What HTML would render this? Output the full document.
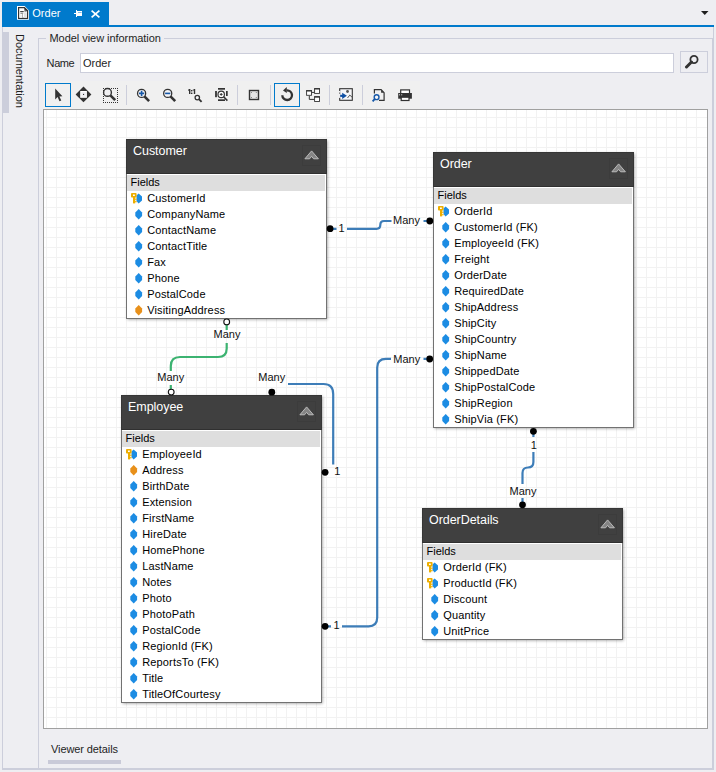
<!DOCTYPE html>
<html><head><meta charset="utf-8"><style>
*{margin:0;padding:0;box-sizing:border-box}
html,body{width:716px;height:772px;overflow:hidden;background:#EEEEF2;font-family:"Liberation Sans", sans-serif}
.a{position:absolute}
.t{position:absolute;white-space:nowrap}
</style></head><body>

<div class="a" style="left:2px;top:2px;width:107px;height:24px;background:#007ACC"></div>
<div class="a" style="left:2px;top:25px;width:712px;height:2px;background:#007ACC"></div>
<svg class="a" style="left:0;top:0" width="40" height="25">
<path d="M17,6 H24.6 L29,10.4 V19.8 H17 Z" fill="#fff"/>
<path d="M18.6,7.6 H24.4 L27.6,10.8 V18.4 H18.6 Z" fill="#fff" stroke="#333" stroke-width="1.2"/>
<path d="M24.4,7.2 L28,10.8 H24.4 Z" fill="#333"/>
<rect x="20.2" y="11" width="3.5" height="1.1" fill="#444"/>
<rect x="20.4" y="12.6" width="2.8" height="1.4" fill="#9a9a9a"/>
<rect x="22" y="14" width="0.9" height="3.9" fill="#aaa"/>
<rect x="24.4" y="11.3" width="2.3" height="0.8" fill="#777"/>
<rect x="24" y="12.7" width="2.7" height="5.1" fill="#e2e2e2"/>
<rect x="19.6" y="14.5" width="2.2" height="3.4" fill="#eee"/>
</svg>
<div class="t" style="left:32.3px;top:7.59px;font-size:11px;line-height:11px;color:#fff;">Order</div>
<svg class="a" style="left:0;top:0" width="110" height="25">
<rect x="74" y="13" width="2" height="1" fill="#fff"/>
<rect x="76" y="10" width="1" height="7" fill="#fff"/>
<rect x="77" y="11" width="5" height="5" fill="#fff"/>
<rect x="78" y="12" width="3.6" height="1" fill="#7fbbe6"/>
</svg>
<svg class="a" style="left:90px;top:9px" width="11" height="10" viewBox="0 0 11 10">
<path d="M1.6 1.6 L9.4 8.4 M9.4 1.6 L1.6 8.4" stroke="#fff" stroke-width="1.7"/>
</svg>
<svg class="a" style="left:700px;top:10px" width="10" height="6"><path d="M1 1 H8.5 L4.75 5 Z" fill="#1e1e1e"/></svg>
<div class="a" style="left:2px;top:27px;width:712px;height:743px;border:1px solid #CCCEDB;border-top:none;border-bottom-width:2px"></div>
<div class="a" style="left:3px;top:32px;width:6px;height:81px;background:#CCCEDB"></div>
<div class="t" style="left:25.4px;top:34px;font-size:11px;line-height:11px;color:#1e1e1e;transform-origin:0 0;transform:rotate(90deg)">Documentation</div>
<div class="a" style="left:38px;top:38px;width:675px;height:731px;border:1px solid #CCCEDB;border-bottom:none"></div>
<div class="a" style="left:46px;top:30px;width:118px;height:14px;background:#EEEEF2"></div>
<div class="t" style="left:49.5px;top:33.29px;font-size:11px;line-height:11px;color:#1e1e1e;letter-spacing:-0.05px">Model view information</div>
<div class="t" style="left:46.6px;top:57.59px;font-size:11px;line-height:11px;color:#1e1e1e;letter-spacing:-0.4px">Name</div>
<div class="a" style="left:80px;top:53px;width:594px;height:20px;background:#fff;border:1px solid #CCCEDB"></div>
<div class="t" style="left:83px;top:57.59px;font-size:11px;line-height:11px;color:#1e1e1e;">Order</div>
<div class="a" style="left:680px;top:51px;width:28px;height:22px;border:1px solid #CCCEDB"></div>
<svg class="a" style="left:684px;top:54px" width="16" height="15" viewBox="0 0 16 15">
<circle cx="10" cy="5.5" r="3.6" fill="none" stroke="#333" stroke-width="1.8"/>
<path d="M7.5 8 L2.5 13" stroke="#333" stroke-width="3" stroke-linecap="round"/>
</svg>
<div class="a" style="left:43px;top:81px;width:377px;height:28px;background:#F0F0F0"></div>
<div class="a" style="left:45px;top:83px;width:26px;height:24px;border:1px solid #007ACC"></div>
<div class="a" style="left:274px;top:83px;width:26px;height:24px;border:1px solid #007ACC"></div>
<div class="a" style="left:126px;top:85px;width:1px;height:20px;background:#CCCEDB"></div>
<div class="a" style="left:237px;top:85px;width:1px;height:20px;background:#CCCEDB"></div>
<div class="a" style="left:270px;top:85px;width:1px;height:20px;background:#CCCEDB"></div>
<div class="a" style="left:329px;top:85px;width:1px;height:20px;background:#CCCEDB"></div>
<div class="a" style="left:362px;top:85px;width:1px;height:20px;background:#CCCEDB"></div>
<svg class="a" style="left:0;top:0" width="716" height="110" viewBox="0 0 716 110">
<path d="M55.2,88.6 V99.4 L57.6,97.1 L59.5,101.2 L61.3,100.4 L59.4,96.4 L62.4,96.2 Z" fill="#333"/>
<path d="M83.5,86.6 L91.4,94.4 L83.5,102.2 L75.6,94.4 Z" fill="#333"/>
<rect x="80.2" y="91" width="6.7" height="6.8" fill="#fff"/>
<rect x="81.2" y="92" width="4.7" height="4.8" fill="#EEEEF2"/>
<rect x="83" y="93.9" width="1.1" height="1.1" fill="#333"/>
<rect x="105" y="88" width="1" height="1" fill="#333"/><rect x="105" y="102" width="1" height="1" fill="#333"/><rect x="107" y="88" width="1" height="1" fill="#333"/><rect x="107" y="102" width="1" height="1" fill="#333"/><rect x="109" y="88" width="1" height="1" fill="#333"/><rect x="109" y="102" width="1" height="1" fill="#333"/><rect x="111" y="88" width="1" height="1" fill="#333"/><rect x="111" y="102" width="1" height="1" fill="#333"/><rect x="113" y="88" width="1" height="1" fill="#333"/><rect x="113" y="102" width="1" height="1" fill="#333"/><rect x="115" y="88" width="1" height="1" fill="#333"/><rect x="115" y="102" width="1" height="1" fill="#333"/><rect x="117" y="88" width="1" height="1" fill="#333"/><rect x="117" y="102" width="1" height="1" fill="#333"/><rect x="117" y="88" width="1" height="1" fill="#333"/><rect x="103" y="88" width="1" height="1" fill="#333"/><rect x="117" y="90" width="1" height="1" fill="#333"/><rect x="103" y="90" width="1" height="1" fill="#333"/><rect x="117" y="92" width="1" height="1" fill="#333"/><rect x="103" y="92" width="1" height="1" fill="#333"/><rect x="117" y="94" width="1" height="1" fill="#333"/><rect x="103" y="94" width="1" height="1" fill="#333"/><rect x="117" y="96" width="1" height="1" fill="#333"/><rect x="103" y="96" width="1" height="1" fill="#333"/><rect x="117" y="98" width="1" height="1" fill="#333"/><rect x="103" y="98" width="1" height="1" fill="#333"/><rect x="117" y="100" width="1" height="1" fill="#333"/><rect x="103" y="100" width="1" height="1" fill="#333"/><rect x="117" y="102" width="1" height="1" fill="#333"/><rect x="103" y="102" width="1" height="1" fill="#333"/>
<circle cx="107.5" cy="92.4" r="3.9" fill="#F0F0F2" stroke="#333" stroke-width="1.4"/>
<path d="M110.4,95.3 L115.2,100.1" stroke="#333" stroke-width="2.6"/>
<circle cx="141.6" cy="93.4" r="4.05" fill="#F4F4F6" stroke="#333" stroke-width="1.3"/>
<path d="M139,93.4 H144.2 M141.6,90.8 V96" stroke="#1658A8" stroke-width="1.6"/>
<path d="M144.4,96.4 L149.1,101.1" stroke="#333" stroke-width="2.6"/>
<circle cx="167.7" cy="93.4" r="4.05" fill="#F4F4F6" stroke="#333" stroke-width="1.3"/>
<path d="M165.1,93.4 H170.3" stroke="#1658A8" stroke-width="1.6"/>
<path d="M170.5,96.4 L175.2,101.1" stroke="#333" stroke-width="2.6"/>
<rect x="189" y="89" width="1.4" height="5" fill="#333"/><rect x="188" y="89.5" width="1" height="1.1" fill="#333"/>
<rect x="191" y="90" width="1.4" height="1.4" fill="#333"/><rect x="191" y="92.6" width="1.4" height="1.4" fill="#333"/>
<rect x="193.8" y="89" width="1.4" height="5" fill="#333"/><rect x="192.8" y="89.5" width="1" height="1.1" fill="#333"/>
<circle cx="197.3" cy="97.6" r="2.2" fill="#F4F4F6" stroke="#333" stroke-width="1.3"/>
<path d="M198.9,99.2 L201.6,101.9" stroke="#333" stroke-width="1.9"/>
<rect x="218" y="88" width="7" height="1.7" fill="#333"/><rect x="218" y="99.3" width="7" height="1.7" fill="#333"/><rect x="215.1" y="91" width="1.8" height="6.2" fill="#333"/><rect x="226" y="91" width="1.7" height="5" fill="#333"/>
<circle cx="221.2" cy="94.4" r="3.2" fill="#fff" stroke="#333" stroke-width="1.2"/>
<path d="M219.8,94.4 H222.6 M221.2,93 V95.8" stroke="#333" stroke-width="1"/>
<path d="M223.6,96.8 L227.4,100.6" stroke="#333" stroke-width="1.6"/>
<rect x="249.5" y="90.5" width="9" height="9" fill="#E4E4E4" stroke="#333" stroke-width="1.4"/>
<rect x="251" y="92" width="1" height="1" fill="#888"/><rect x="255.8" y="92" width="1" height="1" fill="#888"/>
<rect x="251" y="97" width="1" height="1" fill="#888"/><rect x="255.8" y="97" width="1" height="1" fill="#888"/>
<path d="M282.3,95.2 A4.85,4.85 0 1 0 286.8,90.3" fill="none" stroke="#333" stroke-width="2.3"/>
<path d="M286.8,86.9 L283,90.5 L286.8,93.1 Z" fill="#333"/>
<path d="M311.8,92.4 H314.5 M309.3,95.7 V99.4 H314.5" fill="none" stroke="#333" stroke-width="1"/>
<rect x="306.6" y="90.6" width="4.9" height="4.7" fill="#fff" stroke="#333" stroke-width="0.9"/><rect x="306.2" y="90.2" width="5.7" height="1.3" fill="#333"/>
<rect x="314.6" y="88.6" width="4.9" height="4.8" fill="#fff" stroke="#333" stroke-width="0.9"/><rect x="314.2" y="88.2" width="5.7" height="1.3" fill="#333"/>
<rect x="314.6" y="96.7" width="4.9" height="4.8" fill="#fff" stroke="#333" stroke-width="0.9"/><rect x="314.2" y="96.3" width="5.7" height="1.3" fill="#333"/>
<rect x="339.7" y="88.7" width="12.6" height="11.6" fill="#F6F6F8" stroke="#333" stroke-width="1.1"/>
<rect x="339" y="91" width="1.5" height="1.6" fill="#F0F0F2"/><rect x="339" y="93.6" width="1.5" height="4.3" fill="#F0F0F2"/>
<circle cx="347.5" cy="91.5" r="1.4" fill="#555"/>
<path d="M347.5,98 L349.8,95.1 L352.3,97.4" fill="none" stroke="#444" stroke-width="0.9"/>
<path d="M340.2,95.85 H344" stroke="#0E4FA3" stroke-width="2.1"/>
<path d="M342.2,92.8 L346.9,95.85 L342.2,99.1 Z" fill="#0E4FA3"/>
<path d="M374.4,93.5 V89.7 H381.1 L384.1,92.7 V100.4 H379" fill="none" stroke="#333" stroke-width="1.2"/>
<path d="M381.1,89.7 V92.7 H384.1 Z" fill="#333"/>
<circle cx="376.6" cy="97.2" r="2.4" fill="#F4F4F6" stroke="#1658A8" stroke-width="1.4"/>
<path d="M374.9,98.9 L372.6,101.3" stroke="#1658A8" stroke-width="1.9"/>
<rect x="400.7" y="89.9" width="8.8" height="4" fill="#fff" stroke="#333" stroke-width="1.2"/>
<rect x="398.2" y="93" width="13.7" height="5.7" fill="#333"/>
<rect x="399" y="94.3" width="1" height="1" fill="#ddd"/><rect x="401.2" y="94.3" width="1" height="1" fill="#ddd"/>
<rect x="401.2" y="97.2" width="7.8" height="3.3" fill="#fff" stroke="#333" stroke-width="1.2"/>
</svg>
<div class="a" style="left:43px;top:109px;width:665px;height:620px;background:#fff;border:1px solid #A0A0A0"></div>
<svg class="a" style="left:0;top:0" width="716" height="772"><rect x="46" y="110" width="1" height="618" fill="#F2F2F2"/><rect x="56" y="110" width="1" height="618" fill="#F2F2F2"/><rect x="66" y="110" width="1" height="618" fill="#F2F2F2"/><rect x="76" y="110" width="1" height="618" fill="#F2F2F2"/><rect x="86" y="110" width="1" height="618" fill="#F2F2F2"/><rect x="96" y="110" width="1" height="618" fill="#F2F2F2"/><rect x="106" y="110" width="1" height="618" fill="#F2F2F2"/><rect x="116" y="110" width="1" height="618" fill="#F2F2F2"/><rect x="126" y="110" width="1" height="618" fill="#F2F2F2"/><rect x="136" y="110" width="1" height="618" fill="#F2F2F2"/><rect x="146" y="110" width="1" height="618" fill="#F2F2F2"/><rect x="156" y="110" width="1" height="618" fill="#F2F2F2"/><rect x="166" y="110" width="1" height="618" fill="#F2F2F2"/><rect x="176" y="110" width="1" height="618" fill="#F2F2F2"/><rect x="186" y="110" width="1" height="618" fill="#F2F2F2"/><rect x="196" y="110" width="1" height="618" fill="#F2F2F2"/><rect x="206" y="110" width="1" height="618" fill="#F2F2F2"/><rect x="216" y="110" width="1" height="618" fill="#F2F2F2"/><rect x="226" y="110" width="1" height="618" fill="#F2F2F2"/><rect x="236" y="110" width="1" height="618" fill="#F2F2F2"/><rect x="246" y="110" width="1" height="618" fill="#F2F2F2"/><rect x="256" y="110" width="1" height="618" fill="#F2F2F2"/><rect x="266" y="110" width="1" height="618" fill="#F2F2F2"/><rect x="276" y="110" width="1" height="618" fill="#F2F2F2"/><rect x="286" y="110" width="1" height="618" fill="#F2F2F2"/><rect x="296" y="110" width="1" height="618" fill="#F2F2F2"/><rect x="306" y="110" width="1" height="618" fill="#F2F2F2"/><rect x="316" y="110" width="1" height="618" fill="#F2F2F2"/><rect x="326" y="110" width="1" height="618" fill="#F2F2F2"/><rect x="336" y="110" width="1" height="618" fill="#F2F2F2"/><rect x="346" y="110" width="1" height="618" fill="#F2F2F2"/><rect x="356" y="110" width="1" height="618" fill="#F2F2F2"/><rect x="366" y="110" width="1" height="618" fill="#F2F2F2"/><rect x="376" y="110" width="1" height="618" fill="#F2F2F2"/><rect x="386" y="110" width="1" height="618" fill="#F2F2F2"/><rect x="396" y="110" width="1" height="618" fill="#F2F2F2"/><rect x="406" y="110" width="1" height="618" fill="#F2F2F2"/><rect x="416" y="110" width="1" height="618" fill="#F2F2F2"/><rect x="426" y="110" width="1" height="618" fill="#F2F2F2"/><rect x="436" y="110" width="1" height="618" fill="#F2F2F2"/><rect x="446" y="110" width="1" height="618" fill="#F2F2F2"/><rect x="456" y="110" width="1" height="618" fill="#F2F2F2"/><rect x="466" y="110" width="1" height="618" fill="#F2F2F2"/><rect x="476" y="110" width="1" height="618" fill="#F2F2F2"/><rect x="486" y="110" width="1" height="618" fill="#F2F2F2"/><rect x="496" y="110" width="1" height="618" fill="#F2F2F2"/><rect x="506" y="110" width="1" height="618" fill="#F2F2F2"/><rect x="516" y="110" width="1" height="618" fill="#F2F2F2"/><rect x="526" y="110" width="1" height="618" fill="#F2F2F2"/><rect x="536" y="110" width="1" height="618" fill="#F2F2F2"/><rect x="546" y="110" width="1" height="618" fill="#F2F2F2"/><rect x="556" y="110" width="1" height="618" fill="#F2F2F2"/><rect x="566" y="110" width="1" height="618" fill="#F2F2F2"/><rect x="576" y="110" width="1" height="618" fill="#F2F2F2"/><rect x="586" y="110" width="1" height="618" fill="#F2F2F2"/><rect x="596" y="110" width="1" height="618" fill="#F2F2F2"/><rect x="606" y="110" width="1" height="618" fill="#F2F2F2"/><rect x="616" y="110" width="1" height="618" fill="#F2F2F2"/><rect x="626" y="110" width="1" height="618" fill="#F2F2F2"/><rect x="636" y="110" width="1" height="618" fill="#F2F2F2"/><rect x="646" y="110" width="1" height="618" fill="#F2F2F2"/><rect x="656" y="110" width="1" height="618" fill="#F2F2F2"/><rect x="666" y="110" width="1" height="618" fill="#F2F2F2"/><rect x="676" y="110" width="1" height="618" fill="#F2F2F2"/><rect x="686" y="110" width="1" height="618" fill="#F2F2F2"/><rect x="696" y="110" width="1" height="618" fill="#F2F2F2"/><rect x="44" y="117" width="663" height="1" fill="#F2F2F2"/><rect x="44" y="127" width="663" height="1" fill="#F2F2F2"/><rect x="44" y="137" width="663" height="1" fill="#F2F2F2"/><rect x="44" y="147" width="663" height="1" fill="#F2F2F2"/><rect x="44" y="157" width="663" height="1" fill="#F2F2F2"/><rect x="44" y="167" width="663" height="1" fill="#F2F2F2"/><rect x="44" y="177" width="663" height="1" fill="#F2F2F2"/><rect x="44" y="187" width="663" height="1" fill="#F2F2F2"/><rect x="44" y="197" width="663" height="1" fill="#F2F2F2"/><rect x="44" y="207" width="663" height="1" fill="#F2F2F2"/><rect x="44" y="217" width="663" height="1" fill="#F2F2F2"/><rect x="44" y="227" width="663" height="1" fill="#F2F2F2"/><rect x="44" y="237" width="663" height="1" fill="#F2F2F2"/><rect x="44" y="247" width="663" height="1" fill="#F2F2F2"/><rect x="44" y="257" width="663" height="1" fill="#F2F2F2"/><rect x="44" y="267" width="663" height="1" fill="#F2F2F2"/><rect x="44" y="277" width="663" height="1" fill="#F2F2F2"/><rect x="44" y="287" width="663" height="1" fill="#F2F2F2"/><rect x="44" y="297" width="663" height="1" fill="#F2F2F2"/><rect x="44" y="307" width="663" height="1" fill="#F2F2F2"/><rect x="44" y="317" width="663" height="1" fill="#F2F2F2"/><rect x="44" y="327" width="663" height="1" fill="#F2F2F2"/><rect x="44" y="337" width="663" height="1" fill="#F2F2F2"/><rect x="44" y="347" width="663" height="1" fill="#F2F2F2"/><rect x="44" y="357" width="663" height="1" fill="#F2F2F2"/><rect x="44" y="367" width="663" height="1" fill="#F2F2F2"/><rect x="44" y="377" width="663" height="1" fill="#F2F2F2"/><rect x="44" y="387" width="663" height="1" fill="#F2F2F2"/><rect x="44" y="397" width="663" height="1" fill="#F2F2F2"/><rect x="44" y="407" width="663" height="1" fill="#F2F2F2"/><rect x="44" y="417" width="663" height="1" fill="#F2F2F2"/><rect x="44" y="427" width="663" height="1" fill="#F2F2F2"/><rect x="44" y="437" width="663" height="1" fill="#F2F2F2"/><rect x="44" y="447" width="663" height="1" fill="#F2F2F2"/><rect x="44" y="457" width="663" height="1" fill="#F2F2F2"/><rect x="44" y="467" width="663" height="1" fill="#F2F2F2"/><rect x="44" y="477" width="663" height="1" fill="#F2F2F2"/><rect x="44" y="487" width="663" height="1" fill="#F2F2F2"/><rect x="44" y="497" width="663" height="1" fill="#F2F2F2"/><rect x="44" y="507" width="663" height="1" fill="#F2F2F2"/><rect x="44" y="517" width="663" height="1" fill="#F2F2F2"/><rect x="44" y="527" width="663" height="1" fill="#F2F2F2"/><rect x="44" y="537" width="663" height="1" fill="#F2F2F2"/><rect x="44" y="547" width="663" height="1" fill="#F2F2F2"/><rect x="44" y="557" width="663" height="1" fill="#F2F2F2"/><rect x="44" y="567" width="663" height="1" fill="#F2F2F2"/><rect x="44" y="577" width="663" height="1" fill="#F2F2F2"/><rect x="44" y="587" width="663" height="1" fill="#F2F2F2"/><rect x="44" y="597" width="663" height="1" fill="#F2F2F2"/><rect x="44" y="607" width="663" height="1" fill="#F2F2F2"/><rect x="44" y="617" width="663" height="1" fill="#F2F2F2"/><rect x="44" y="627" width="663" height="1" fill="#F2F2F2"/><rect x="44" y="637" width="663" height="1" fill="#F2F2F2"/><rect x="44" y="647" width="663" height="1" fill="#F2F2F2"/><rect x="44" y="657" width="663" height="1" fill="#F2F2F2"/><rect x="44" y="667" width="663" height="1" fill="#F2F2F2"/><rect x="44" y="677" width="663" height="1" fill="#F2F2F2"/><rect x="44" y="687" width="663" height="1" fill="#F2F2F2"/><rect x="44" y="697" width="663" height="1" fill="#F2F2F2"/><rect x="44" y="707" width="663" height="1" fill="#F2F2F2"/><rect x="44" y="717" width="663" height="1" fill="#F2F2F2"/></svg>
<div class="a" style="left:126px;top:139px;width:201px;height:180px;background:#fff;border:1px solid #727272;box-shadow:0.5px 0.5px 3px rgba(0,0,0,0.4)"></div>
<div class="a" style="left:126px;top:139px;width:201px;height:35px;background:#404040;border:1px solid #363636;border-bottom-color:#303030"></div>
<div class="a" style="left:127px;top:175px;width:198px;height:16px;background:#DEDEDE"></div>
<div class="t" style="left:133px;top:145.42px;font-size:12.5px;line-height:12.5px;color:#fff;letter-spacing:-0.05px">Customer</div>
<div class="a" style="left:302px;top:145px;width:19px;height:21px;border:1px solid #3C3C3C"></div>
<svg class="a" style="left:302px;top:149px" width="19" height="12" viewBox="0 0 19 12"><path d="M2.9 9.8 L9.6 1.9 L16.4 9.8 L11.6 9.8 L9.6 7.4 L7.6 9.8 Z" fill="#858585" stroke="#C4C4C4" stroke-width="0.9" stroke-linejoin="round"/></svg>
<div class="t" style="left:130.5px;top:176.69px;font-size:11px;line-height:11px;color:#000;">Fields</div>
<svg class="a" style="left:131px;top:192.6px" width="12" height="11" viewBox="0 0 12 11"><path d="M7.6 0.4 L11 3.6 V7.4 L7.6 10.6 L5.5 8 V2.5 Z" fill="#1C8CE3"/><path d="M0.9 0 H4.7 Q5.6 0 5.6 0.9 V3.5 Q5.6 4.4 4.7 4.4 H0.9 Q0 4.4 0 3.5 V0.9 Q0 0 0.9 0 Z M2 1.4 V3 H3.8 V1.4 Z" fill="#EDAE00" fill-rule="evenodd"/><rect x="2" y="4" width="2.2" height="6.4" fill="#EDAE00"/><rect x="4.2" y="5.6" width="1.4" height="1.3" fill="#EDAE00"/><rect x="4.2" y="8" width="1.4" height="1.3" fill="#EDAE00"/></svg>
<div class="t" style="left:147.2px;top:192.69px;font-size:11px;line-height:11px;color:#000;letter-spacing:0.16px">CustomerId</div>
<svg class="a" style="left:134.8px;top:208.6px" width="8" height="11" viewBox="0 0 8 11"><path d="M3.7 0 L7.1 3.4 V7.1 L3.7 10.5 L0.3 7.1 V3.4 Z" fill="#1C8CE3"/></svg>
<div class="t" style="left:147.2px;top:208.69px;font-size:11px;line-height:11px;color:#000;letter-spacing:0.16px">CompanyName</div>
<svg class="a" style="left:134.8px;top:224.6px" width="8" height="11" viewBox="0 0 8 11"><path d="M3.7 0 L7.1 3.4 V7.1 L3.7 10.5 L0.3 7.1 V3.4 Z" fill="#1C8CE3"/></svg>
<div class="t" style="left:147.2px;top:224.69px;font-size:11px;line-height:11px;color:#000;letter-spacing:0.16px">ContactName</div>
<svg class="a" style="left:134.8px;top:240.6px" width="8" height="11" viewBox="0 0 8 11"><path d="M3.7 0 L7.1 3.4 V7.1 L3.7 10.5 L0.3 7.1 V3.4 Z" fill="#1C8CE3"/></svg>
<div class="t" style="left:147.2px;top:240.69px;font-size:11px;line-height:11px;color:#000;letter-spacing:0.16px">ContactTitle</div>
<svg class="a" style="left:134.8px;top:256.6px" width="8" height="11" viewBox="0 0 8 11"><path d="M3.7 0 L7.1 3.4 V7.1 L3.7 10.5 L0.3 7.1 V3.4 Z" fill="#1C8CE3"/></svg>
<div class="t" style="left:147.2px;top:256.69px;font-size:11px;line-height:11px;color:#000;letter-spacing:0.16px">Fax</div>
<svg class="a" style="left:134.8px;top:272.6px" width="8" height="11" viewBox="0 0 8 11"><path d="M3.7 0 L7.1 3.4 V7.1 L3.7 10.5 L0.3 7.1 V3.4 Z" fill="#1C8CE3"/></svg>
<div class="t" style="left:147.2px;top:272.69px;font-size:11px;line-height:11px;color:#000;letter-spacing:0.16px">Phone</div>
<svg class="a" style="left:134.8px;top:288.6px" width="8" height="11" viewBox="0 0 8 11"><path d="M3.7 0 L7.1 3.4 V7.1 L3.7 10.5 L0.3 7.1 V3.4 Z" fill="#1C8CE3"/></svg>
<div class="t" style="left:147.2px;top:288.69px;font-size:11px;line-height:11px;color:#000;letter-spacing:0.16px">PostalCode</div>
<svg class="a" style="left:134.8px;top:304.6px" width="8" height="11" viewBox="0 0 8 11"><path d="M3.7 0 L7.1 3.4 V7.1 L3.7 10.5 L0.3 7.1 V3.4 Z" fill="#E8901A"/></svg>
<div class="t" style="left:147.2px;top:304.69px;font-size:11px;line-height:11px;color:#000;letter-spacing:0.16px">VisitingAddress</div>
<div class="a" style="left:433px;top:152px;width:201px;height:276px;background:#fff;border:1px solid #727272;box-shadow:0.5px 0.5px 3px rgba(0,0,0,0.4)"></div>
<div class="a" style="left:433px;top:152px;width:201px;height:35px;background:#404040;border:1px solid #363636;border-bottom-color:#303030"></div>
<div class="a" style="left:434px;top:188px;width:198px;height:16px;background:#DEDEDE"></div>
<div class="t" style="left:440px;top:158.42px;font-size:12.5px;line-height:12.5px;color:#fff;letter-spacing:-0.05px">Order</div>
<div class="a" style="left:609px;top:158px;width:19px;height:21px;border:1px solid #3C3C3C"></div>
<svg class="a" style="left:609px;top:162px" width="19" height="12" viewBox="0 0 19 12"><path d="M2.9 9.8 L9.6 1.9 L16.4 9.8 L11.6 9.8 L9.6 7.4 L7.6 9.8 Z" fill="#858585" stroke="#C4C4C4" stroke-width="0.9" stroke-linejoin="round"/></svg>
<div class="t" style="left:437.5px;top:189.69px;font-size:11px;line-height:11px;color:#000;">Fields</div>
<svg class="a" style="left:438px;top:205.6px" width="12" height="11" viewBox="0 0 12 11"><path d="M7.6 0.4 L11 3.6 V7.4 L7.6 10.6 L5.5 8 V2.5 Z" fill="#1C8CE3"/><path d="M0.9 0 H4.7 Q5.6 0 5.6 0.9 V3.5 Q5.6 4.4 4.7 4.4 H0.9 Q0 4.4 0 3.5 V0.9 Q0 0 0.9 0 Z M2 1.4 V3 H3.8 V1.4 Z" fill="#EDAE00" fill-rule="evenodd"/><rect x="2" y="4" width="2.2" height="6.4" fill="#EDAE00"/><rect x="4.2" y="5.6" width="1.4" height="1.3" fill="#EDAE00"/><rect x="4.2" y="8" width="1.4" height="1.3" fill="#EDAE00"/></svg>
<div class="t" style="left:454.2px;top:205.69px;font-size:11px;line-height:11px;color:#000;letter-spacing:0.16px">OrderId</div>
<svg class="a" style="left:441.8px;top:221.6px" width="8" height="11" viewBox="0 0 8 11"><path d="M3.7 0 L7.1 3.4 V7.1 L3.7 10.5 L0.3 7.1 V3.4 Z" fill="#1C8CE3"/></svg>
<div class="t" style="left:454.2px;top:221.69px;font-size:11px;line-height:11px;color:#000;letter-spacing:0.16px">CustomerId (FK)</div>
<svg class="a" style="left:441.8px;top:237.6px" width="8" height="11" viewBox="0 0 8 11"><path d="M3.7 0 L7.1 3.4 V7.1 L3.7 10.5 L0.3 7.1 V3.4 Z" fill="#1C8CE3"/></svg>
<div class="t" style="left:454.2px;top:237.69px;font-size:11px;line-height:11px;color:#000;letter-spacing:0.16px">EmployeeId (FK)</div>
<svg class="a" style="left:441.8px;top:253.6px" width="8" height="11" viewBox="0 0 8 11"><path d="M3.7 0 L7.1 3.4 V7.1 L3.7 10.5 L0.3 7.1 V3.4 Z" fill="#1C8CE3"/></svg>
<div class="t" style="left:454.2px;top:253.69px;font-size:11px;line-height:11px;color:#000;letter-spacing:0.16px">Freight</div>
<svg class="a" style="left:441.8px;top:269.6px" width="8" height="11" viewBox="0 0 8 11"><path d="M3.7 0 L7.1 3.4 V7.1 L3.7 10.5 L0.3 7.1 V3.4 Z" fill="#1C8CE3"/></svg>
<div class="t" style="left:454.2px;top:269.69px;font-size:11px;line-height:11px;color:#000;letter-spacing:0.16px">OrderDate</div>
<svg class="a" style="left:441.8px;top:285.6px" width="8" height="11" viewBox="0 0 8 11"><path d="M3.7 0 L7.1 3.4 V7.1 L3.7 10.5 L0.3 7.1 V3.4 Z" fill="#1C8CE3"/></svg>
<div class="t" style="left:454.2px;top:285.69px;font-size:11px;line-height:11px;color:#000;letter-spacing:0.16px">RequiredDate</div>
<svg class="a" style="left:441.8px;top:301.6px" width="8" height="11" viewBox="0 0 8 11"><path d="M3.7 0 L7.1 3.4 V7.1 L3.7 10.5 L0.3 7.1 V3.4 Z" fill="#1C8CE3"/></svg>
<div class="t" style="left:454.2px;top:301.69px;font-size:11px;line-height:11px;color:#000;letter-spacing:0.16px">ShipAddress</div>
<svg class="a" style="left:441.8px;top:317.6px" width="8" height="11" viewBox="0 0 8 11"><path d="M3.7 0 L7.1 3.4 V7.1 L3.7 10.5 L0.3 7.1 V3.4 Z" fill="#1C8CE3"/></svg>
<div class="t" style="left:454.2px;top:317.69px;font-size:11px;line-height:11px;color:#000;letter-spacing:0.16px">ShipCity</div>
<svg class="a" style="left:441.8px;top:333.6px" width="8" height="11" viewBox="0 0 8 11"><path d="M3.7 0 L7.1 3.4 V7.1 L3.7 10.5 L0.3 7.1 V3.4 Z" fill="#1C8CE3"/></svg>
<div class="t" style="left:454.2px;top:333.69px;font-size:11px;line-height:11px;color:#000;letter-spacing:0.16px">ShipCountry</div>
<svg class="a" style="left:441.8px;top:349.6px" width="8" height="11" viewBox="0 0 8 11"><path d="M3.7 0 L7.1 3.4 V7.1 L3.7 10.5 L0.3 7.1 V3.4 Z" fill="#1C8CE3"/></svg>
<div class="t" style="left:454.2px;top:349.69px;font-size:11px;line-height:11px;color:#000;letter-spacing:0.16px">ShipName</div>
<svg class="a" style="left:441.8px;top:365.6px" width="8" height="11" viewBox="0 0 8 11"><path d="M3.7 0 L7.1 3.4 V7.1 L3.7 10.5 L0.3 7.1 V3.4 Z" fill="#1C8CE3"/></svg>
<div class="t" style="left:454.2px;top:365.69px;font-size:11px;line-height:11px;color:#000;letter-spacing:0.16px">ShippedDate</div>
<svg class="a" style="left:441.8px;top:381.6px" width="8" height="11" viewBox="0 0 8 11"><path d="M3.7 0 L7.1 3.4 V7.1 L3.7 10.5 L0.3 7.1 V3.4 Z" fill="#1C8CE3"/></svg>
<div class="t" style="left:454.2px;top:381.69px;font-size:11px;line-height:11px;color:#000;letter-spacing:0.16px">ShipPostalCode</div>
<svg class="a" style="left:441.8px;top:397.6px" width="8" height="11" viewBox="0 0 8 11"><path d="M3.7 0 L7.1 3.4 V7.1 L3.7 10.5 L0.3 7.1 V3.4 Z" fill="#1C8CE3"/></svg>
<div class="t" style="left:454.2px;top:397.69px;font-size:11px;line-height:11px;color:#000;letter-spacing:0.16px">ShipRegion</div>
<svg class="a" style="left:441.8px;top:413.6px" width="8" height="11" viewBox="0 0 8 11"><path d="M3.7 0 L7.1 3.4 V7.1 L3.7 10.5 L0.3 7.1 V3.4 Z" fill="#1C8CE3"/></svg>
<div class="t" style="left:454.2px;top:413.69px;font-size:11px;line-height:11px;color:#000;letter-spacing:0.16px">ShipVia (FK)</div>
<div class="a" style="left:121px;top:395px;width:201px;height:308px;background:#fff;border:1px solid #727272;box-shadow:0.5px 0.5px 3px rgba(0,0,0,0.4)"></div>
<div class="a" style="left:121px;top:395px;width:201px;height:35px;background:#404040;border:1px solid #363636;border-bottom-color:#303030"></div>
<div class="a" style="left:122px;top:431px;width:198px;height:16px;background:#DEDEDE"></div>
<div class="t" style="left:128px;top:401.42px;font-size:12.5px;line-height:12.5px;color:#fff;letter-spacing:-0.05px">Employee</div>
<div class="a" style="left:297px;top:401px;width:19px;height:21px;border:1px solid #3C3C3C"></div>
<svg class="a" style="left:297px;top:405px" width="19" height="12" viewBox="0 0 19 12"><path d="M2.9 9.8 L9.6 1.9 L16.4 9.8 L11.6 9.8 L9.6 7.4 L7.6 9.8 Z" fill="#858585" stroke="#C4C4C4" stroke-width="0.9" stroke-linejoin="round"/></svg>
<div class="t" style="left:125.5px;top:432.69px;font-size:11px;line-height:11px;color:#000;">Fields</div>
<svg class="a" style="left:126px;top:448.6px" width="12" height="11" viewBox="0 0 12 11"><path d="M7.6 0.4 L11 3.6 V7.4 L7.6 10.6 L5.5 8 V2.5 Z" fill="#1C8CE3"/><path d="M0.9 0 H4.7 Q5.6 0 5.6 0.9 V3.5 Q5.6 4.4 4.7 4.4 H0.9 Q0 4.4 0 3.5 V0.9 Q0 0 0.9 0 Z M2 1.4 V3 H3.8 V1.4 Z" fill="#EDAE00" fill-rule="evenodd"/><rect x="2" y="4" width="2.2" height="6.4" fill="#EDAE00"/><rect x="4.2" y="5.6" width="1.4" height="1.3" fill="#EDAE00"/><rect x="4.2" y="8" width="1.4" height="1.3" fill="#EDAE00"/></svg>
<div class="t" style="left:142.2px;top:448.69px;font-size:11px;line-height:11px;color:#000;letter-spacing:0.16px">EmployeeId</div>
<svg class="a" style="left:129.8px;top:464.6px" width="8" height="11" viewBox="0 0 8 11"><path d="M3.7 0 L7.1 3.4 V7.1 L3.7 10.5 L0.3 7.1 V3.4 Z" fill="#E8901A"/></svg>
<div class="t" style="left:142.2px;top:464.69px;font-size:11px;line-height:11px;color:#000;letter-spacing:0.16px">Address</div>
<svg class="a" style="left:129.8px;top:480.6px" width="8" height="11" viewBox="0 0 8 11"><path d="M3.7 0 L7.1 3.4 V7.1 L3.7 10.5 L0.3 7.1 V3.4 Z" fill="#1C8CE3"/></svg>
<div class="t" style="left:142.2px;top:480.69px;font-size:11px;line-height:11px;color:#000;letter-spacing:0.16px">BirthDate</div>
<svg class="a" style="left:129.8px;top:496.6px" width="8" height="11" viewBox="0 0 8 11"><path d="M3.7 0 L7.1 3.4 V7.1 L3.7 10.5 L0.3 7.1 V3.4 Z" fill="#1C8CE3"/></svg>
<div class="t" style="left:142.2px;top:496.69px;font-size:11px;line-height:11px;color:#000;letter-spacing:0.16px">Extension</div>
<svg class="a" style="left:129.8px;top:512.6px" width="8" height="11" viewBox="0 0 8 11"><path d="M3.7 0 L7.1 3.4 V7.1 L3.7 10.5 L0.3 7.1 V3.4 Z" fill="#1C8CE3"/></svg>
<div class="t" style="left:142.2px;top:512.69px;font-size:11px;line-height:11px;color:#000;letter-spacing:0.16px">FirstName</div>
<svg class="a" style="left:129.8px;top:528.6px" width="8" height="11" viewBox="0 0 8 11"><path d="M3.7 0 L7.1 3.4 V7.1 L3.7 10.5 L0.3 7.1 V3.4 Z" fill="#1C8CE3"/></svg>
<div class="t" style="left:142.2px;top:528.69px;font-size:11px;line-height:11px;color:#000;letter-spacing:0.16px">HireDate</div>
<svg class="a" style="left:129.8px;top:544.6px" width="8" height="11" viewBox="0 0 8 11"><path d="M3.7 0 L7.1 3.4 V7.1 L3.7 10.5 L0.3 7.1 V3.4 Z" fill="#1C8CE3"/></svg>
<div class="t" style="left:142.2px;top:544.69px;font-size:11px;line-height:11px;color:#000;letter-spacing:0.16px">HomePhone</div>
<svg class="a" style="left:129.8px;top:560.6px" width="8" height="11" viewBox="0 0 8 11"><path d="M3.7 0 L7.1 3.4 V7.1 L3.7 10.5 L0.3 7.1 V3.4 Z" fill="#1C8CE3"/></svg>
<div class="t" style="left:142.2px;top:560.69px;font-size:11px;line-height:11px;color:#000;letter-spacing:0.16px">LastName</div>
<svg class="a" style="left:129.8px;top:576.6px" width="8" height="11" viewBox="0 0 8 11"><path d="M3.7 0 L7.1 3.4 V7.1 L3.7 10.5 L0.3 7.1 V3.4 Z" fill="#1C8CE3"/></svg>
<div class="t" style="left:142.2px;top:576.69px;font-size:11px;line-height:11px;color:#000;letter-spacing:0.16px">Notes</div>
<svg class="a" style="left:129.8px;top:592.6px" width="8" height="11" viewBox="0 0 8 11"><path d="M3.7 0 L7.1 3.4 V7.1 L3.7 10.5 L0.3 7.1 V3.4 Z" fill="#1C8CE3"/></svg>
<div class="t" style="left:142.2px;top:592.69px;font-size:11px;line-height:11px;color:#000;letter-spacing:0.16px">Photo</div>
<svg class="a" style="left:129.8px;top:608.6px" width="8" height="11" viewBox="0 0 8 11"><path d="M3.7 0 L7.1 3.4 V7.1 L3.7 10.5 L0.3 7.1 V3.4 Z" fill="#1C8CE3"/></svg>
<div class="t" style="left:142.2px;top:608.69px;font-size:11px;line-height:11px;color:#000;letter-spacing:0.16px">PhotoPath</div>
<svg class="a" style="left:129.8px;top:624.6px" width="8" height="11" viewBox="0 0 8 11"><path d="M3.7 0 L7.1 3.4 V7.1 L3.7 10.5 L0.3 7.1 V3.4 Z" fill="#1C8CE3"/></svg>
<div class="t" style="left:142.2px;top:624.69px;font-size:11px;line-height:11px;color:#000;letter-spacing:0.16px">PostalCode</div>
<svg class="a" style="left:129.8px;top:640.6px" width="8" height="11" viewBox="0 0 8 11"><path d="M3.7 0 L7.1 3.4 V7.1 L3.7 10.5 L0.3 7.1 V3.4 Z" fill="#1C8CE3"/></svg>
<div class="t" style="left:142.2px;top:640.69px;font-size:11px;line-height:11px;color:#000;letter-spacing:0.16px">RegionId (FK)</div>
<svg class="a" style="left:129.8px;top:656.6px" width="8" height="11" viewBox="0 0 8 11"><path d="M3.7 0 L7.1 3.4 V7.1 L3.7 10.5 L0.3 7.1 V3.4 Z" fill="#1C8CE3"/></svg>
<div class="t" style="left:142.2px;top:656.69px;font-size:11px;line-height:11px;color:#000;letter-spacing:0.16px">ReportsTo (FK)</div>
<svg class="a" style="left:129.8px;top:672.6px" width="8" height="11" viewBox="0 0 8 11"><path d="M3.7 0 L7.1 3.4 V7.1 L3.7 10.5 L0.3 7.1 V3.4 Z" fill="#1C8CE3"/></svg>
<div class="t" style="left:142.2px;top:672.69px;font-size:11px;line-height:11px;color:#000;letter-spacing:0.16px">Title</div>
<svg class="a" style="left:129.8px;top:688.6px" width="8" height="11" viewBox="0 0 8 11"><path d="M3.7 0 L7.1 3.4 V7.1 L3.7 10.5 L0.3 7.1 V3.4 Z" fill="#1C8CE3"/></svg>
<div class="t" style="left:142.2px;top:688.69px;font-size:11px;line-height:11px;color:#000;letter-spacing:0.16px">TitleOfCourtesy</div>
<div class="a" style="left:422px;top:508px;width:201px;height:132px;background:#fff;border:1px solid #727272;box-shadow:0.5px 0.5px 3px rgba(0,0,0,0.4)"></div>
<div class="a" style="left:422px;top:508px;width:201px;height:35px;background:#404040;border:1px solid #363636;border-bottom-color:#303030"></div>
<div class="a" style="left:423px;top:544px;width:198px;height:16px;background:#DEDEDE"></div>
<div class="t" style="left:429px;top:514.42px;font-size:12.5px;line-height:12.5px;color:#fff;letter-spacing:-0.05px">OrderDetails</div>
<div class="a" style="left:598px;top:514px;width:19px;height:21px;border:1px solid #3C3C3C"></div>
<svg class="a" style="left:598px;top:518px" width="19" height="12" viewBox="0 0 19 12"><path d="M2.9 9.8 L9.6 1.9 L16.4 9.8 L11.6 9.8 L9.6 7.4 L7.6 9.8 Z" fill="#858585" stroke="#C4C4C4" stroke-width="0.9" stroke-linejoin="round"/></svg>
<div class="t" style="left:426.5px;top:545.69px;font-size:11px;line-height:11px;color:#000;">Fields</div>
<svg class="a" style="left:427px;top:561.6px" width="12" height="11" viewBox="0 0 12 11"><path d="M7.6 0.4 L11 3.6 V7.4 L7.6 10.6 L5.5 8 V2.5 Z" fill="#1C8CE3"/><path d="M0.9 0 H4.7 Q5.6 0 5.6 0.9 V3.5 Q5.6 4.4 4.7 4.4 H0.9 Q0 4.4 0 3.5 V0.9 Q0 0 0.9 0 Z M2 1.4 V3 H3.8 V1.4 Z" fill="#EDAE00" fill-rule="evenodd"/><rect x="2" y="4" width="2.2" height="6.4" fill="#EDAE00"/><rect x="4.2" y="5.6" width="1.4" height="1.3" fill="#EDAE00"/><rect x="4.2" y="8" width="1.4" height="1.3" fill="#EDAE00"/></svg>
<div class="t" style="left:443.2px;top:561.69px;font-size:11px;line-height:11px;color:#000;letter-spacing:0.16px">OrderId (FK)</div>
<svg class="a" style="left:427px;top:577.6px" width="12" height="11" viewBox="0 0 12 11"><path d="M7.6 0.4 L11 3.6 V7.4 L7.6 10.6 L5.5 8 V2.5 Z" fill="#1C8CE3"/><path d="M0.9 0 H4.7 Q5.6 0 5.6 0.9 V3.5 Q5.6 4.4 4.7 4.4 H0.9 Q0 4.4 0 3.5 V0.9 Q0 0 0.9 0 Z M2 1.4 V3 H3.8 V1.4 Z" fill="#EDAE00" fill-rule="evenodd"/><rect x="2" y="4" width="2.2" height="6.4" fill="#EDAE00"/><rect x="4.2" y="5.6" width="1.4" height="1.3" fill="#EDAE00"/><rect x="4.2" y="8" width="1.4" height="1.3" fill="#EDAE00"/></svg>
<div class="t" style="left:443.2px;top:577.69px;font-size:11px;line-height:11px;color:#000;letter-spacing:0.16px">ProductId (FK)</div>
<svg class="a" style="left:430.8px;top:593.6px" width="8" height="11" viewBox="0 0 8 11"><path d="M3.7 0 L7.1 3.4 V7.1 L3.7 10.5 L0.3 7.1 V3.4 Z" fill="#1C8CE3"/></svg>
<div class="t" style="left:443.2px;top:593.69px;font-size:11px;line-height:11px;color:#000;letter-spacing:0.16px">Discount</div>
<svg class="a" style="left:430.8px;top:609.6px" width="8" height="11" viewBox="0 0 8 11"><path d="M3.7 0 L7.1 3.4 V7.1 L3.7 10.5 L0.3 7.1 V3.4 Z" fill="#1C8CE3"/></svg>
<div class="t" style="left:443.2px;top:609.69px;font-size:11px;line-height:11px;color:#000;letter-spacing:0.16px">Quantity</div>
<svg class="a" style="left:430.8px;top:625.6px" width="8" height="11" viewBox="0 0 8 11"><path d="M3.7 0 L7.1 3.4 V7.1 L3.7 10.5 L0.3 7.1 V3.4 Z" fill="#1C8CE3"/></svg>
<div class="t" style="left:443.2px;top:625.69px;font-size:11px;line-height:11px;color:#000;letter-spacing:0.16px">UnitPrice</div>
<svg class="a" style="left:0;top:0" width="716" height="772"><defs><mask id="m1" maskUnits="userSpaceOnUse" x="0" y="0" width="716" height="772"><rect x="0" y="0" width="716" height="772" fill="#fff"/><rect x="336.5" y="215" width="10.5" height="21" fill="#000"/><rect x="391.5" y="212" width="32.0" height="18" fill="#000"/></mask><mask id="m2" maskUnits="userSpaceOnUse" x="0" y="0" width="716" height="772"><rect x="0" y="0" width="716" height="772" fill="#fff"/><rect x="200" y="330" width="50" height="13" fill="#000"/><rect x="150" y="371" width="50" height="14" fill="#000"/></mask><mask id="m3" maskUnits="userSpaceOnUse" x="0" y="0" width="716" height="772"><rect x="0" y="0" width="716" height="772" fill="#fff"/><rect x="250" y="370" width="38" height="19" fill="#000"/><rect x="327" y="464.5" width="18" height="15.5" fill="#000"/></mask><mask id="m4" maskUnits="userSpaceOnUse" x="0" y="0" width="716" height="772"><rect x="0" y="0" width="716" height="772" fill="#fff"/><rect x="331" y="618" width="11" height="18" fill="#000"/><rect x="391" y="350" width="32.5" height="18" fill="#000"/></mask><mask id="m5" maskUnits="userSpaceOnUse" x="0" y="0" width="716" height="772"><rect x="0" y="0" width="716" height="772" fill="#fff"/><rect x="525" y="437" width="20" height="15" fill="#000"/><rect x="505" y="484" width="35" height="14" fill="#000"/></mask></defs><path d="M330,228.8 H376.5 Q380.3,228.8 380.3,225 Q380.3,221 384,221 H430" fill="none" stroke="#3D7DB8" stroke-width="2.2" mask="url(#m1)"/><path d="M226.7,322 V348.5 Q226.7,357 218,357 H180 Q170.8,357 170.8,366 V392" fill="none" stroke="#3CB371" stroke-width="2.2" mask="url(#m2)"/><path d="M272,392 V384 H323.5 Q333.2,384 333.2,394 V472 H325" fill="none" stroke="#3D7DB8" stroke-width="2.2" mask="url(#m3)"/><path d="M325,626.3 H368.5 Q377.2,626.3 377.2,617.5 V367.5 Q377.2,358.8 386,358.8 H430" fill="none" stroke="#3D7DB8" stroke-width="2.2" mask="url(#m4)"/><path d="M533.4,431.3 V462 Q533.4,467.5 528,467.5 Q522.5,467.5 522.5,473 V505" fill="none" stroke="#3D7DB8" stroke-width="2.2" mask="url(#m5)"/><circle cx="330.1" cy="228.7" r="3.4" fill="#000"/><circle cx="429.8" cy="221" r="3.4" fill="#000"/><circle cx="226.7" cy="321.9" r="2.9" fill="#fff" stroke="#111" stroke-width="1.1"/><circle cx="171.2" cy="392.1" r="2.9" fill="#fff" stroke="#111" stroke-width="1.1"/><circle cx="271.8" cy="392.2" r="3.4" fill="#000"/><circle cx="325.1" cy="472.3" r="3.4" fill="#000"/><circle cx="325.1" cy="626.3" r="3.4" fill="#000"/><circle cx="429.7" cy="359" r="3.4" fill="#000"/><circle cx="533.4" cy="431.3" r="3.4" fill="#000"/><circle cx="522.5" cy="504.8" r="3.4" fill="#000"/></svg>
<div class="t" style="left:338.5px;top:222.69px;font-size:11px;line-height:11px;color:#111;">1</div>
<div class="t" style="left:393px;top:215.49px;font-size:11px;line-height:11px;color:#111;">Many</div>
<div class="t" style="left:213.5px;top:329.49px;font-size:11px;line-height:11px;color:#111;">Many</div>
<div class="t" style="left:157.3px;top:372.39px;font-size:11px;line-height:11px;color:#111;">Many</div>
<div class="t" style="left:258.3px;top:372.49px;font-size:11px;line-height:11px;color:#111;">Many</div>
<div class="t" style="left:334.3px;top:466.39px;font-size:11px;line-height:11px;color:#111;">1</div>
<div class="t" style="left:333.5px;top:620.49px;font-size:11px;line-height:11px;color:#111;">1</div>
<div class="t" style="left:393.3px;top:353.69px;font-size:11px;line-height:11px;color:#111;">Many</div>
<div class="t" style="left:530.8px;top:439.99px;font-size:11px;line-height:11px;color:#111;">1</div>
<div class="t" style="left:509.5px;top:485.69px;font-size:11px;line-height:11px;color:#111;">Many</div>
<div class="t" style="left:51px;top:744.19px;font-size:11px;line-height:11px;color:#1e1e1e;letter-spacing:-0.1px">Viewer details</div>
<div class="a" style="left:48px;top:760px;width:73px;height:4px;background:#C9CAD8"></div>
</body></html>
